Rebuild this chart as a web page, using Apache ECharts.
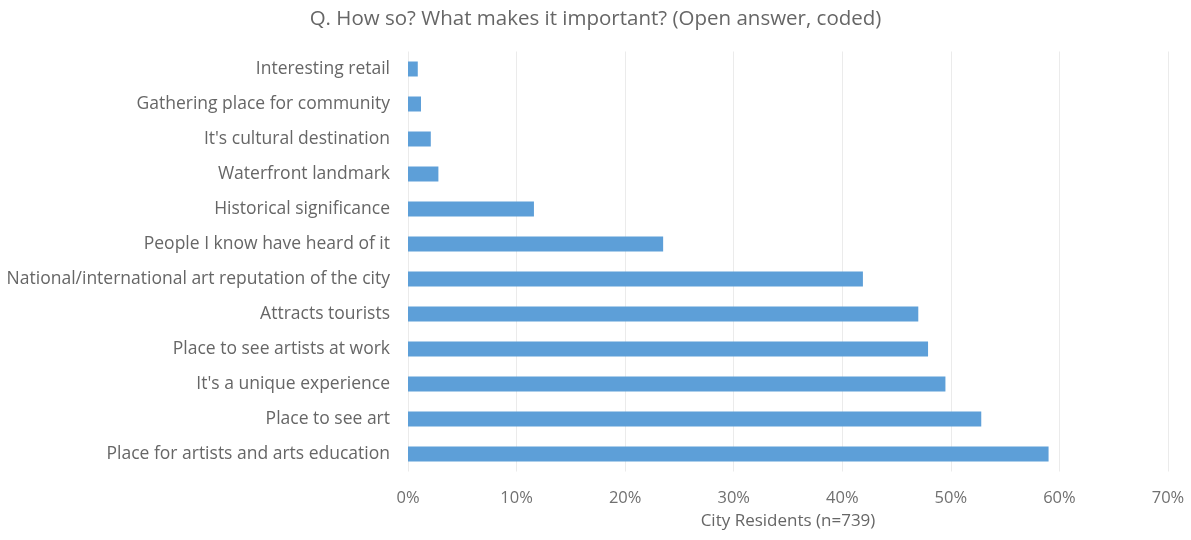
<!DOCTYPE html>
<html>
<head>
<meta charset="utf-8">
<script src="https://cdn.jsdelivr.net/npm/echarts@6/dist/echarts.min.js"></script>
<style>html,body{margin:0;padding:0;background:#fff;}#c{width:1191px;height:540px;}</style>
</head>
<body>
<div id="c"></div>
<script>
const categories = [
  "Place for artists and arts education",
  "Place to see art",
  "It's a unique experience",
  "Place to see artists at work",
  "Attracts tourists",
  "National/international art reputation of the city",
  "People I know have heard of it",
  "Historical significance",
  "Waterfront landmark",
  "It's cultural destination",
  "Gathering place for community",
  "Interesting retail"
];
const values = [59.0, 52.8, 49.5, 47.9, 47.0, 41.9, 23.5, 11.6, 2.8, 2.1, 1.2, 0.9];
const titleText = "Q. How so? What makes it important? (Open answer, coded)";
const axisTitle = "City Residents (n=739)";

const chart = echarts.init(document.getElementById('c'));
const font = "'Open Sans', sans-serif";
chart.setOption({
  animation: false,
  title: {
    text: titleText, left: 'center', top: 4,
    textStyle: {fontFamily: font, fontSize: 20.5, fontWeight: 'normal', color: '#666666'}
  },
  grid: {left: 408, right: 23, top: 51.5, bottom: 68.5},
  xAxis: {
    type: 'value', min: 0, max: 70, interval: 10,
    name: axisTitle, nameLocation: 'middle', nameGap: 41,
    nameTextStyle: {fontFamily: font, fontSize: 17, color: '#666666'},
    axisLine: {show: false}, axisTick: {show: false},
    axisLabel: {formatter: '{value}%', fontFamily: font, fontSize: 16.5, color: '#707070', margin: 18},
    splitLine: {show: true, lineStyle: {color: '#ebebeb', width: 1}}
  },
  yAxis: {
    type: 'category', data: categories,
    axisLine: {show: false}, axisTick: {show: false},
    axisLabel: {fontFamily: font, fontSize: 17.5, color: '#666666', margin: 18}
  },
  series: [{
    type: 'bar', data: values, barWidth: 15,
    itemStyle: {color: '#5d9fd8'}
  }]
});
</script>
</body>
</html>
